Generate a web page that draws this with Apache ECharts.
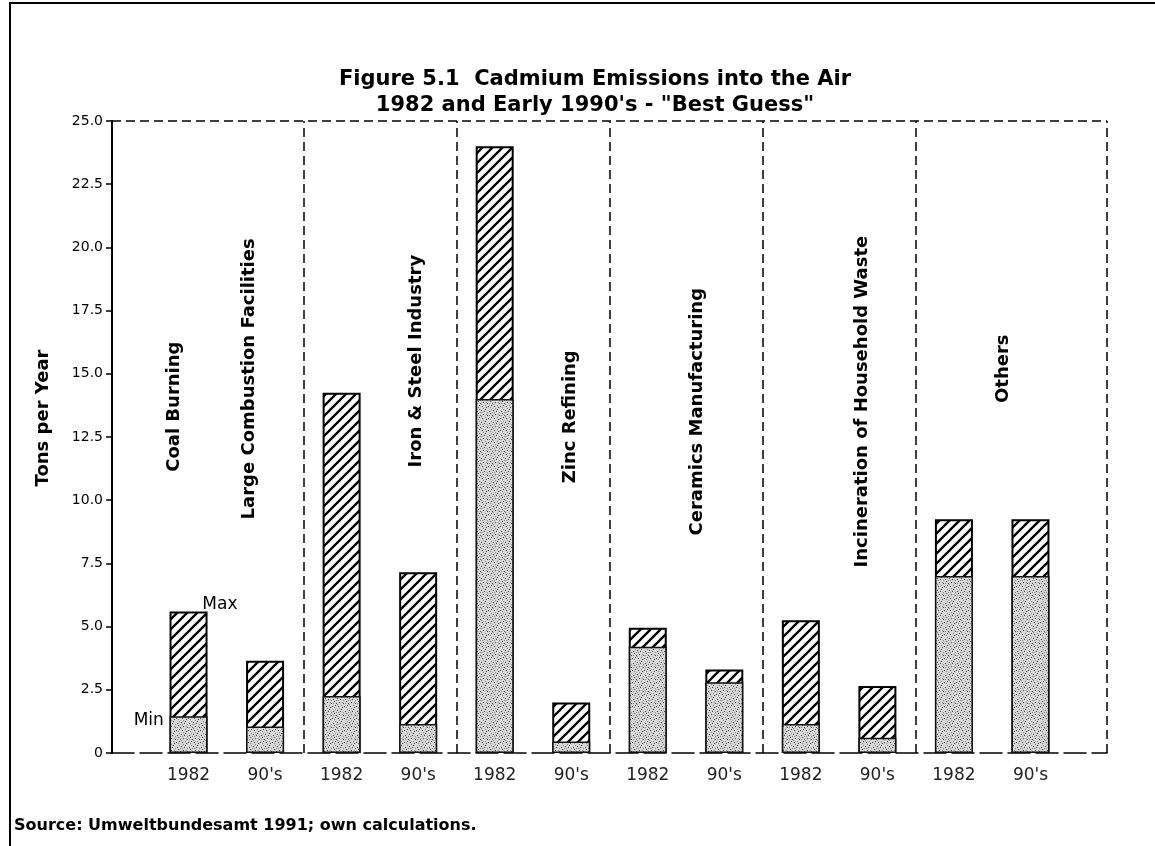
<!doctype html>
<html>
<head>
<meta charset="UTF-8">
<title>Cadmium Emissions into the Air</title>
<script src="https://cdn.jsdelivr.net/npm/echarts@6/dist/echarts.min.js"></script>
<style>
    html, body { margin: 0; background: #fff; }
    #main { width: 1155px; height: 846px; }
</style>
</head>
<body>
<div id="main"></div>
<script>
// bar labels along the x axis (one per bar)
var years = ['1982', "90's", '1982', "90's", '1982', "90's", '1982', "90's", '1982', "90's", '1982', "90's"];
// tons per year
var minVals = [1.45, 1.05, 2.25, 1.15, 14.0, 0.45, 4.2, 2.8, 1.15, 0.6, 7.0, 7.0];
var maxVals = [5.6, 3.65, 14.25, 7.15, 24.0, 2.0, 4.95, 3.3, 5.25, 2.65, 9.25, 9.25];
// source groups (vertical labels) and the dashed lines between sections
var groups = ['Coal Burning', 'Large Combustion Facilities', 'Iron & Steel Industry', 'Zinc Refining',
              'Ceramics Manufacturing', 'Incineration of Household Waste', 'Others'];
var separators = [2.5, 4.5, 6.5, 8.5, 10.5];

// where the vertical group labels sit (x slot, tons)
var groupLabelAt = [[0.81, 13.7], [1.80, 14.8], [3.98, 15.5], [5.99, 13.3], [7.65, 13.5], [9.80, 13.9], [11.64, 15.2]];

function hatchPattern() {
    var c = document.createElement('canvas');
    c.width = 10; c.height = 10;
    var g = c.getContext('2d');
    g.fillStyle = '#fff';
    g.fillRect(0, 0, 10, 10);
    g.strokeStyle = '#000';
    g.lineWidth = 2.3;
    g.beginPath();
    g.moveTo(0, 10); g.lineTo(10, 0);
    g.moveTo(-5, 5); g.lineTo(5, -5);
    g.moveTo(5, 15); g.lineTo(15, 5);
    g.stroke();
    return c;
}

function stipplePattern() {
    var c = document.createElement('canvas');
    c.width = 12; c.height = 12;
    var g = c.getContext('2d');
    g.fillStyle = '#d6d6d6';
    g.fillRect(0, 0, 12, 12);
    g.fillStyle = '#444';
    [[1,2],[5,1],[9,3],[3,6],[7,7],[11,9],[2,10],[6,11],[10,5],[0,7],[4,3],[8,10]].forEach(function (p) {
        g.fillRect(p[0], p[1], 1, 1);
    });
    g.fillStyle = '#888';
    [[3,0],[7,4],[11,1],[1,8],[5,9],[9,7],[0,4],[10,11],[6,6],[2,4]].forEach(function (p) {
        g.fillRect(p[0], p[1], 1, 1);
    });
    return c;
}

var myChart = echarts.init(document.getElementById('main'));

var option = {
    backgroundColor: '#fff',
    animation: false,
    title: {
        text: 'Figure 5.1  Cadmium Emissions into the Air\n1982 and Early 1990\'s - "Best Guess"',
        left: 590,
        top: 62,
        textAlign: 'center',
        textStyle: {
            fontFamily: 'DejaVu Sans',
            fontSize: 21,
            fontWeight: 'bold',
            lineHeight: 26,
            color: '#000'
        }
    },
    grid: { left: 112, right: 48, top: 121, bottom: 93 },
    xAxis: {
        type: 'value',
        min: 0,
        max: 13,
        interval: 1,
        splitLine: { show: false },
        axisTick: { show: false },
        axisLine: { show: true, lineStyle: { color: '#000', width: 1.5, type: [22, 6] } },
        axisLabel: {
            margin: 14,
            color: '#222',
            fontFamily: 'DejaVu Sans',
            fontSize: 17,
            formatter: function (v) { return years[v - 1] || ''; }
        }
    },
    yAxis: {
        type: 'value',
        min: 0,
        max: 25,
        interval: 2.5,
        splitLine: { show: false },
        axisLine: { show: true, lineStyle: { color: '#000', width: 2 } },
        axisTick: { show: true, length: 6, lineStyle: { color: '#000', width: 1.5 } },
        axisLabel: {
            margin: 9,
            color: '#000',
            fontFamily: 'DejaVu Sans',
            fontSize: 14,
            formatter: function (v) { return v === 0 ? '0' : v.toFixed(1); }
        }
    },
    graphic: [
        {
            type: 'polyline',
            shape: { points: [[10, 846], [10, 3], [1155, 3]] },
            style: { stroke: '#000', lineWidth: 2, fill: null }
        },
        {
            type: 'text',
            x: 43, y: 418,
            rotation: Math.PI / 2,
            style: {
                text: 'Tons per Year',
                fill: '#000',
                font: 'bold 18px "DejaVu Sans"',
                textAlign: 'center',
                textVerticalAlign: 'middle'
            }
        },
        {
            type: 'text',
            left: 14, top: 818,
            style: {
                text: 'Source: Umweltbundesamt 1991; own calculations.',
                fill: '#000',
                font: 'bold 16px "DejaVu Sans"'
            }
        }
    ],
    series: [
        {
            name: 'Max',
            type: 'bar',
            barWidth: 38,
            barGap: '-100%',
            data: maxVals.map(function (v, i) { return [i + 1, v]; }),
            itemStyle: {
                color: { image: hatchPattern(), repeat: 'repeat' },
                borderColor: '#000',
                borderWidth: 2
            },
            markLine: {
                silent: true,
                symbol: 'none',
                label: { show: false },
                lineStyle: { color: '#000', type: [9, 5], width: 1.5 },
                data: separators.map(function (s) { return { xAxis: s }; })
                    .concat([{ xAxis: 13 }, { yAxis: 25 }])
            }
        },
        {
            name: 'Min',
            type: 'bar',
            barWidth: 38,
            barGap: '-100%',
            data: minVals.map(function (v, i) { return [i + 1, v]; }),
            itemStyle: {
                color: { image: stipplePattern(), repeat: 'repeat' },
                borderColor: '#111',
                borderWidth: 1.5
            }
        },
        {
            type: 'scatter',
            symbolSize: 0,
            silent: true,
            itemStyle: { color: '#000', opacity: 1 },
            data: groups.map(function (g, i) { return { name: g, value: groupLabelAt[i] }; }),
            label: {
                show: true,
                position: 'inside',
                rotate: 90,
                formatter: '{b}',
                color: '#000',
                textBorderWidth: 0,
                fontFamily: 'DejaVu Sans',
                fontWeight: 'bold',
                fontSize: 18
            }
        },
        {
            type: 'scatter',
            symbolSize: 0,
            silent: true,
            itemStyle: { color: '#000', opacity: 1 },
            data: [{ name: 'Max', value: [1.41, 5.89] }, { name: 'Min', value: [0.48, 1.3] }],
            label: {
                show: true,
                position: 'inside',
                formatter: '{b}',
                color: '#000',
                textBorderWidth: 0,
                fontFamily: 'DejaVu Sans',
                fontSize: 17
            }
        }
    ]
};

myChart.setOption(option);
</script>
</body>
</html>
